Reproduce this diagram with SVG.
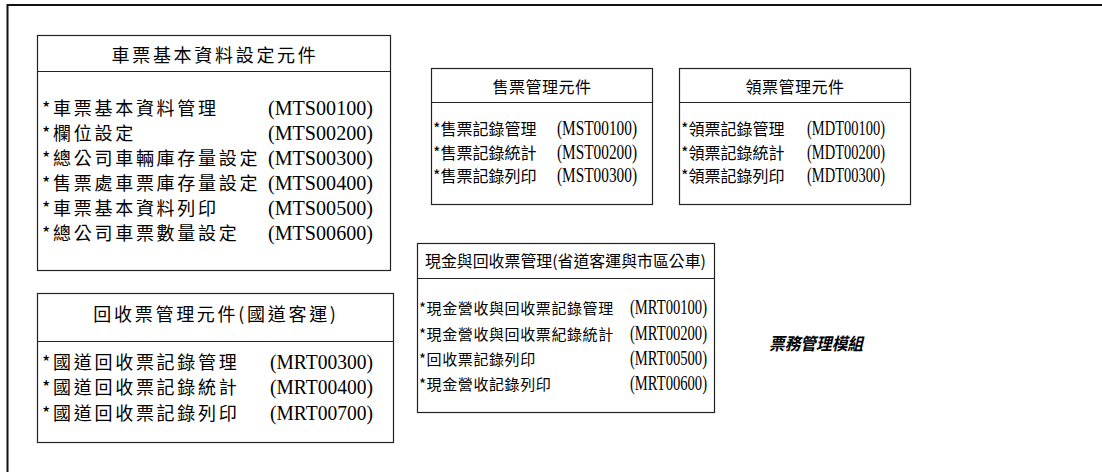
<svg xmlns="http://www.w3.org/2000/svg" width="1102" height="472" viewBox="0 0 1102 472">
<style>
.box{fill:#fff;stroke:#222;stroke-width:1.2}
.sep{stroke:#222;stroke-width:1.2}
.frame{stroke:#111;stroke-width:2;fill:none}
text{font-family:"Noto Sans CJK TC","Noto Sans CJK SC",sans-serif;fill:#000;dominant-baseline:central}
.code{font-family:"Liberation Serif",serif}
.t18{font-size:18px;letter-spacing:2.7px}
.t16{font-size:16px}
.t15{font-size:15px}
.title{text-anchor:middle}
.mod{font-size:17px;font-weight:bold;font-style:italic}
</style>
<rect width="1102" height="472" fill="#fff"/>
<g id="frame"><path class="frame" d="M1102 5 H7.5 V472"/></g>
<g id="connectors"></g>
<g id="n1">
<rect class="box" x="37.5" y="35.5" width="353" height="235"/>
<line class="sep" x1="37.5" y1="71.5" x2="390.5" y2="71.5"/>
<text class="t18 title" x="215" y="54">車票基本資料設定元件</text>
<text class="t18" x="42" y="107">*車票基本資料管理</text>
<text class="t18" x="42" y="132">*欄位設定</text>
<text class="t18" x="42" y="157">*總公司車輛庫存量設定</text>
<text class="t18" x="42" y="182">*售票處車票庫存量設定</text>
<text class="t18" x="42" y="207">*車票基本資料列印</text>
<text class="t18" x="42" y="232">*總公司車票數量設定</text>
<text class="code" font-size="22" x="268" y="107" textLength="105" lengthAdjust="spacingAndGlyphs">(MTS00100)</text>
<text class="code" font-size="22" x="268" y="132" textLength="105" lengthAdjust="spacingAndGlyphs">(MTS00200)</text>
<text class="code" font-size="22" x="268" y="157" textLength="105" lengthAdjust="spacingAndGlyphs">(MTS00300)</text>
<text class="code" font-size="22" x="268" y="182" textLength="105" lengthAdjust="spacingAndGlyphs">(MTS00400)</text>
<text class="code" font-size="22" x="268" y="207" textLength="105" lengthAdjust="spacingAndGlyphs">(MTS00500)</text>
<text class="code" font-size="22" x="268" y="232" textLength="105" lengthAdjust="spacingAndGlyphs">(MTS00600)</text>
</g>
<g id="n2">
<rect class="box" x="431.5" y="68.5" width="221" height="136"/>
<line class="sep" x1="431.5" y1="102.5" x2="652.5" y2="102.5"/>
<text class="t16 title" x="542" y="86" letter-spacing="0.5">售票管理元件</text>
<text class="t16" x="433" y="128">*售票記錄管理</text>
<text class="t16" x="433" y="152">*售票記錄統計</text>
<text class="t16" x="433" y="175">*售票記錄列印</text>
<text class="code" font-size="20" x="557" y="128" textLength="80" lengthAdjust="spacingAndGlyphs">(MST00100)</text>
<text class="code" font-size="20" x="557" y="152" textLength="80" lengthAdjust="spacingAndGlyphs">(MST00200)</text>
<text class="code" font-size="20" x="557" y="175" textLength="80" lengthAdjust="spacingAndGlyphs">(MST00300)</text>
</g>
<g id="n3">
<rect class="box" x="679.5" y="68.5" width="231" height="136"/>
<line class="sep" x1="679.5" y1="102.5" x2="910.5" y2="102.5"/>
<text class="t16 title" x="795" y="86" letter-spacing="0.5">領票管理元件</text>
<text class="t16" x="681" y="128">*領票記錄管理</text>
<text class="t16" x="681" y="152">*領票記錄統計</text>
<text class="t16" x="681" y="175">*領票記錄列印</text>
<text class="code" font-size="20" x="807" y="128" textLength="78" lengthAdjust="spacingAndGlyphs">(MDT00100)</text>
<text class="code" font-size="20" x="807" y="152" textLength="78" lengthAdjust="spacingAndGlyphs">(MDT00200)</text>
<text class="code" font-size="20" x="807" y="175" textLength="78" lengthAdjust="spacingAndGlyphs">(MDT00300)</text>
</g>
<g id="n4">
<rect class="box" x="37.5" y="293.5" width="356" height="149"/>
<line class="sep" x1="37.5" y1="341.5" x2="393.5" y2="341.5"/>
<text class="t18 title" x="216" y="313" letter-spacing="2.5">回收票管理元件(國道客運)</text>
<text class="t18" x="42" y="361" letter-spacing="4">*國道回收票記錄管理</text>
<text class="t18" x="42" y="386" letter-spacing="4">*國道回收票記錄統計</text>
<text class="t18" x="42" y="412" letter-spacing="4">*國道回收票記錄列印</text>
<text class="code" font-size="22" x="270" y="361" textLength="103" lengthAdjust="spacingAndGlyphs">(MRT00300)</text>
<text class="code" font-size="22" x="270" y="386" textLength="103" lengthAdjust="spacingAndGlyphs">(MRT00400)</text>
<text class="code" font-size="22" x="270" y="412" textLength="103" lengthAdjust="spacingAndGlyphs">(MRT00700)</text>
</g>
<g id="n5">
<rect class="box" x="417.5" y="243.5" width="297" height="169"/>
<line class="sep" x1="417.5" y1="278.5" x2="714.5" y2="278.5"/>
<text class="t16" x="425" y="260" textLength="281" lengthAdjust="spacingAndGlyphs">現金與回收票管理(省道客運與市區公車)</text>
<text class="t15" x="419" y="307" letter-spacing="0.6">*現金營收與回收票記錄管理</text>
<text class="t15" x="419" y="333" letter-spacing="0.6">*現金營收與回收票紀錄統計</text>
<text class="t15" x="419" y="358" letter-spacing="0.6">*回收票記錄列印</text>
<text class="t15" x="419" y="383" letter-spacing="0.6">*現金營收記錄列印</text>
<text class="code" font-size="20" x="630" y="307" textLength="77" lengthAdjust="spacingAndGlyphs">(MRT00100)</text>
<text class="code" font-size="20" x="630" y="333" textLength="77" lengthAdjust="spacingAndGlyphs">(MRT00200)</text>
<text class="code" font-size="20" x="630" y="358" textLength="77" lengthAdjust="spacingAndGlyphs">(MRT00500)</text>
<text class="code" font-size="20" x="630" y="383" textLength="77" lengthAdjust="spacingAndGlyphs">(MRT00600)</text>
</g>
<g id="label"><text class="mod" x="769" y="342" textLength="94" lengthAdjust="spacingAndGlyphs">票務管理模組</text></g>
</svg>
